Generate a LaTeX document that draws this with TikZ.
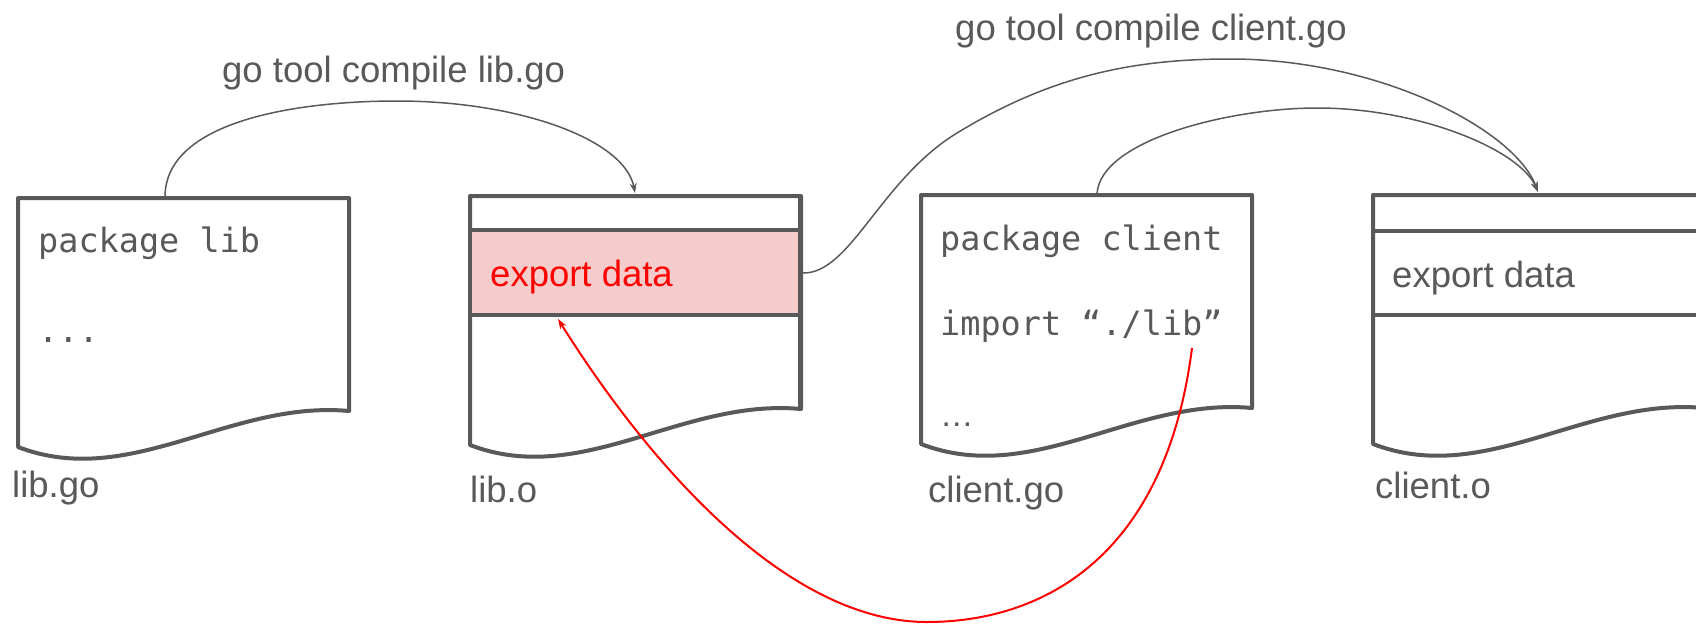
\documentclass[tikz,border=0pt]{standalone}
\usepackage{fontspec}
\setmainfont{Liberation Sans}
\setmonofont{DejaVu Sans Mono}
\usetikzlibrary{arrows.meta}
\definecolor{docgray}{HTML}{595959}
\definecolor{exppink}{HTML}{F4CCCC}
\definecolor{refred}{HTML}{FF0000}

% file outline: left, top
\newcommand{\docbox}[2]{%
  \draw[doc] (#1,{#2+249}) -- (#1,#2) -- ({#1+331},#2) -- ({#1+331},{#2+213})
    .. controls ({#1+212},{#2+202}) and ({#1+112},{#2+292}) .. (#1,{#2+249}) -- cycle;}

\tikzset{
  doc/.style={draw=docgray, fill=white, line width=4pt, line join=round},
  sect/.style={draw=docgray, line width=4pt},
  code/.style={anchor=base west, inner sep=0, text=docgray,
    font=\ttfamily\fontsize{33.5}{40}\selectfont},
  lbl/.style={anchor=base west, inner sep=0, text=docgray,
    font=\fontsize{36.5}{44}\selectfont},
  conn/.style={draw=docgray, line width=1.5pt, -{Stealth[length=10pt,width=7pt]}},
  ref/.style={draw=refred, line width=2pt, -{Stealth[length=10pt,width=7pt]}}
}

\begin{document}
\begin{tikzpicture}[x=1pt, y=-1pt]
  \useasboundingbox (0,0) rectangle (1696,624);
  \clip (0,0) rectangle (1696,624);

  % lib.go
  \docbox{18}{198}
  \node[code] (libpkg) at (38,252) {package lib};
  \node[code] (libdots) at (38,342) {...};
  \node[lbl] (libgo) at (12,497) {lib.go};

  % lib.o
  \docbox{470}{196}
  \fill[exppink] (470,230) rectangle (800,315);
  \draw[sect] (470,230) -- (800,230);
  \draw[sect] (470,315) -- (800,315);
  \draw[sect] (470,196) -- (470,445);
  \draw[sect] (800,196) -- (800,409);
  \node[lbl, text=refred] (libexp) at (490,286) {export data};
  \node[lbl] (libo) at (470,502) {lib.o};

  % client.go
  \docbox{921}{195}
  \node[code] (clpkg) at (940,250) {package client};
  \node[code] (climp) at (940,335) {import “./lib”};
  \node[code, font=\fontsize{33.5}{40}\selectfont] (cldots) at (940,426) {…};
  \node[lbl] (clgo) at (928,502) {client.go};

  % client.o
  \docbox{1373}{195}
  \draw[sect] (1373,231) -- (1704,231);
  \draw[sect] (1373,315) -- (1704,315);
  \node[lbl] (clexp) at (1392,287) {export data};
  \node[lbl] (clo) at (1375,498) {client.o};

  % compile steps
  \node[lbl] (cmdlib) at (222,82) {go tool compile lib.go};
  \node[lbl] (cmdcl) at (955,40) {go tool compile client.go};

  \coordinate (libgo-top) at (165,197);
  \coordinate (libo-top) at (635,193);
  \coordinate (libo-exp) at (802,273);
  \coordinate (clgo-top) at (1097,194);
  \coordinate (clo-top) at (1538,192);
  \coordinate (imp-lib) at (1192,348);
  \coordinate (exp-in) at (558,319);

  \draw[conn] (libgo-top) .. controls (165,120) and (300,101) .. (397,101)
    .. controls (520,101) and (625,140) .. (libo-top);
  \draw[conn] (libo-exp) .. controls (850,275) and (880,180) .. (957,133)
    .. controls (1049,77) and (1130,59) .. (1230,59)
    .. controls (1380,59) and (1515,130) .. (clo-top);
  \draw[conn] (clgo-top) .. controls (1100,140) and (1230,108) .. (1317,108)
    .. controls (1420,108) and (1520,150) .. (clo-top);

  % import refers to export data
  \draw[ref] (imp-lib) .. controls (1165,560) and (1040,622) .. (927,622)
    .. controls (780,622) and (640,450) .. (exp-in);
\end{tikzpicture}
\end{document}
